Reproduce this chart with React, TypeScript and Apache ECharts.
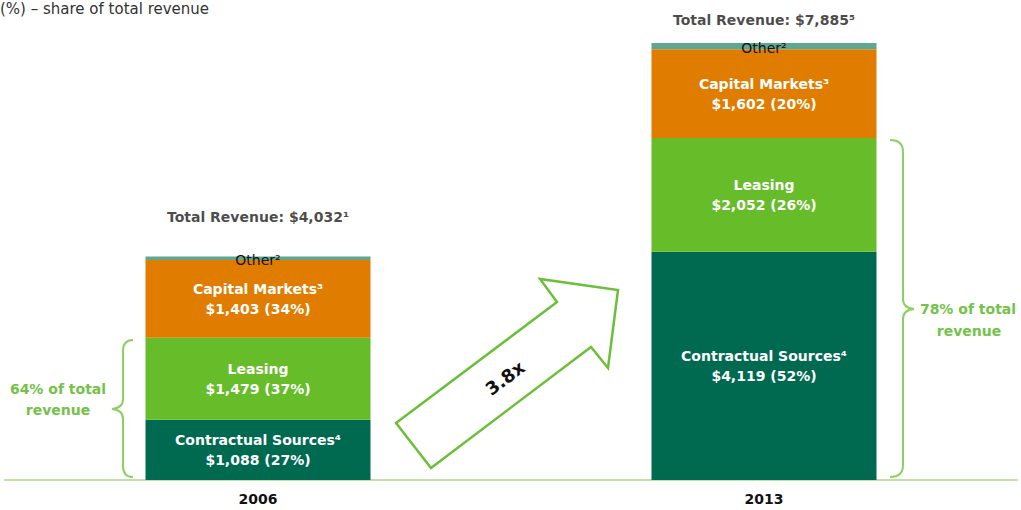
import React, { useEffect, useRef } from 'react';
import * as echarts from 'echarts';

const categories = ['2006', '2013'];
const contractualSources = [1088, 4119];
const leasing = [1479, 2052];
const capitalMarkets = [1403, 1602];
const other = [62, 112];
const totalRevenue = [4032, 7885];
const contractualShare = [27, 52];
const leasingShare = [37, 26];
const capitalShare = [34, 20];
const totalFootnote = ['¹', '⁵'];
const combinedShare = [64, 78];
const growthLabel = '3.8x';
const subtitle = '(%) – share of total revenue';

const FONT = 'DejaVu Sans';
const GREEN_TEXT = '#74C24A';
const BRACE = '#8DCF62';

echarts.graphic.registerShape(
  'brace06',
  echarts.graphic.extendPath(
    'M 133 340 Q 123 340 123 351 L 123 399 Q 123 408 112 409 Q 123 410 123 419 L 123 466 Q 123 477 133 477',
    {}
  )
);
echarts.graphic.registerShape(
  'brace13',
  echarts.graphic.extendPath(
    'M 890 140 Q 903 140 903 152 L 903 299 Q 903 308 914 309 Q 903 310 903 319 L 903 465 Q 903 477 890 477',
    {}
  )
);

const fmt = (v: number) => v.toLocaleString('en-US');

function innerLabel(name: string, sup: string, vals: number[], shares: number[]) {
  return {
    show: true,
    position: 'inside',
    color: '#ffffff',
    fontFamily: FONT,
    fontWeight: 'bold',
    fontSize: 14,
    lineHeight: 20,
    formatter: (p: any) => `${name}${sup}\n$${fmt(vals[p.dataIndex])} (${shares[p.dataIndex]}%)`,
  };
}

export default function App() {
  const ref = useRef<HTMLDivElement>(null);
  useEffect(() => {
    if (!ref.current) return;
    const chart = echarts.init(ref.current, null, { renderer: 'svg' });
    const totalDistances = [32, 16];
    const option: any = {
      animation: false,
      grid: { left: 5, right: 4, top: 9, bottom: 30, containLabel: false },
      xAxis: {
        type: 'category',
        data: categories,
        axisTick: { show: false },
        axisLine: { lineStyle: { color: '#BCE2A4', width: 2 } },
        axisLabel: { color: '#111', fontFamily: FONT, fontWeight: 'bold', fontSize: 14, margin: 12 },
      },
      yAxis: { type: 'value', min: 0, max: 8500, show: false, splitLine: { show: false } },
      series: [
        {
          name: 'Contractual Sources',
          type: 'bar',
          stack: 'rev',
          barWidth: 225,
          data: contractualSources,
          itemStyle: { color: '#006A51' },
          label: innerLabel('Contractual Sources', '⁴', contractualSources, contractualShare),
        },
        {
          name: 'Leasing',
          type: 'bar',
          stack: 'rev',
          data: leasing,
          itemStyle: { color: '#67BC2A' },
          label: innerLabel('Leasing', '', leasing, leasingShare),
        },
        {
          name: 'Capital Markets',
          type: 'bar',
          stack: 'rev',
          data: capitalMarkets,
          itemStyle: { color: '#E07D00' },
          label: innerLabel('Capital Markets', '³', capitalMarkets, capitalShare),
        },
        {
          name: 'Other',
          type: 'bar',
          stack: 'rev',
          data: other,
          itemStyle: { color: '#5FA793' },
          label: {
            show: true,
            position: 'inside',
            offset: [0, 2],
            color: '#111',
            fontFamily: FONT,
            fontSize: 14,
            formatter: () => 'Other²',
          },
        },
        {
          name: 'Total',
          type: 'scatter',
          symbolSize: 1,
          silent: true,
          itemStyle: { color: 'transparent' },
          data: totalRevenue.map((v, i) => ({ value: v, label: { distance: totalDistances[i] } })),
          label: {
            show: true,
            position: 'top',
            color: '#1a1a1a',
            fontFamily: FONT,
            fontWeight: 'bold',
            fontSize: 14,
            formatter: (p: any) => `Total Revenue: $${fmt(totalRevenue[p.dataIndex])}${totalFootnote[p.dataIndex]}`,
          },
        },
      ],
      graphic: [
        {
          type: 'text',
          x: 0,
          y: 9,
          style: {
            text: subtitle,
            fill: '#333',
            font: `15px ${FONT}`,
            textAlign: 'left',
            textVerticalAlign: 'middle',
            align: 'left',
            verticalAlign: 'middle',
          },
        },
        {
          type: 'polygon',
          shape: {
            points: [
              [396, 423],
              [557, 302],
              [540, 279],
              [618, 290],
              [608, 368],
              [591, 347],
              [431, 468],
            ],
          },
          style: { fill: '#ffffff', stroke: '#6CBF3A', lineWidth: 2.5 },
        },
        {
          type: 'text',
          x: 505,
          y: 378,
          rotation: (37 * Math.PI) / 180,
          style: {
            text: growthLabel,
            fill: '#111',
            font: `bold 18px ${FONT}`,
            textAlign: 'center',
            textVerticalAlign: 'middle',
            align: 'center',
            verticalAlign: 'middle',
          },
        },
        { type: 'brace06', x: 0, y: 0, style: { stroke: BRACE, lineWidth: 2, fill: 'none' } },
        { type: 'brace13', x: 0, y: 0, style: { stroke: BRACE, lineWidth: 2, fill: 'none' } },
        ...[
          { x: 58, y: 389, t: `${combinedShare[0]}% of total` },
          { x: 58, y: 410, t: 'revenue' },
          { x: 968, y: 309, t: `${combinedShare[1]}% of total` },
          { x: 969, y: 331, t: 'revenue' },
        ].map((o) => ({
          type: 'text',
          x: o.x,
          y: o.y,
          style: {
            text: o.t,
            fill: GREEN_TEXT,
            font: `bold 14px ${FONT}`,
            textAlign: 'center',
            textVerticalAlign: 'middle',
            align: 'center',
            verticalAlign: 'middle',
          },
        })),
      ],
    };
    chart.setOption(option);
    return () => chart.dispose();
  }, []);
  return (
    <div
      ref={ref}
      style={{ position: 'fixed', left: 0, top: 0, width: 1021, height: 510, background: '#fff' }}
    />
  );
}
